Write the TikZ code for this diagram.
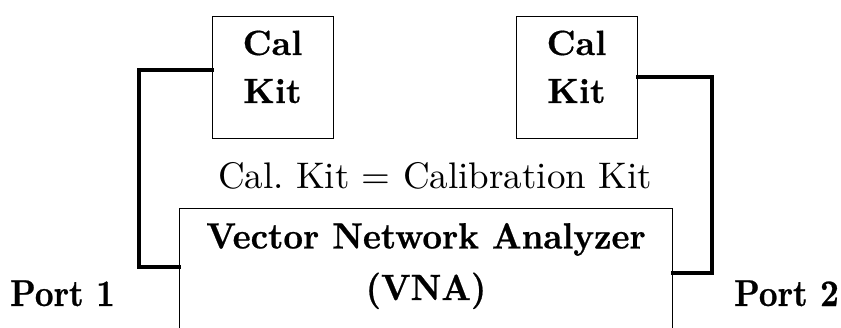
\documentclass[tikz,border=0pt]{standalone}
\usepackage{fontspec}
\setmainfont{lmroman10}[Extension=.otf, UprightFont=*-regular, BoldFont=*-bold, ItalicFont=*-italic, BoldItalicFont=*-bolditalic]
\newfontfamily\kitfont{lmroman10-bold}[Extension=.otf, FakeBold=0.6]
\newfontfamily\vnafont{lmroman10-bold}[Extension=.otf, FakeStretch=0.935, FakeBold=0.6]
\newfontfamily\portfont{lmroman10-bold}[Extension=.otf, FakeStretch=0.87, FakeBold=0.6]
\usetikzlibrary{calc}
\tikzset{
  kitbox/.style={draw, line width=1.3pt, minimum width=121pt, minimum height=122pt, inner sep=0pt, anchor=north west},
  vnabox/.style={draw, line width=1.3pt, minimum width=493pt, minimum height=140pt, inner sep=0pt, anchor=north west},
  wire/.style={line width=4.5pt, line cap=rect},
  kittext/.style={font=\kitfont\fontsize{35}{35}\selectfont, anchor=base, inner sep=0pt},
  vnatext/.style={font=\vnafont\fontsize{36.5}{36.5}\selectfont, anchor=base, inner sep=0pt},
  porttext/.style={font=\portfont\fontsize{37.5}{37.5}\selectfont, anchor=base west, inner sep=0pt},
  notetext/.style={font=\fontsize{37}{37}\selectfont, anchor=base, inner sep=0pt},
}
\begin{document}
\begin{tikzpicture}[x=1pt,y=-1pt]
\useasboundingbox (0,0) rectangle (841,327);
\clip (0,0) rectangle (841,327);
\node[kitbox] (kitL) at (212,16) {};
\node[kitbox] (kitR) at (516,16) {};
\node[vnabox] (vna) at (179,208) {};
\node[kittext] (kitLa) at (272.5,55) {Cal};
\node[kittext] (kitLb) at (272.5,103) {Kit};
\node[kittext] (kitRa) at (576.5,55) {Cal};
\node[kittext] (kitRb) at (576.5,103) {Kit};
\node[notetext] (note) at (435,188) {Cal.\ Kit = Calibration Kit};
\node[vnatext] (vnaa) at (426,248.5) {Vector Network Analyzer};
\node[vnatext] (vnab) at (426,300) {(VNA)};
\node[porttext] (p1) at (10,306) {Port 1};
\node[porttext] (p2) at (734,306) {Port 2};
\coordinate (l1) at (139,70);
\coordinate (l2) at (139,267);
\coordinate (r1) at (712,77);
\coordinate (r2) at (712,273);
\draw[wire] (kitL.west |- l1) -- (l1) -- (l2) -- (vna.west |- l2);
\draw[wire] (kitR.east |- r1) -- (r1) -- (r2) -- (vna.east |- r2);
\end{tikzpicture}
\end{document}
